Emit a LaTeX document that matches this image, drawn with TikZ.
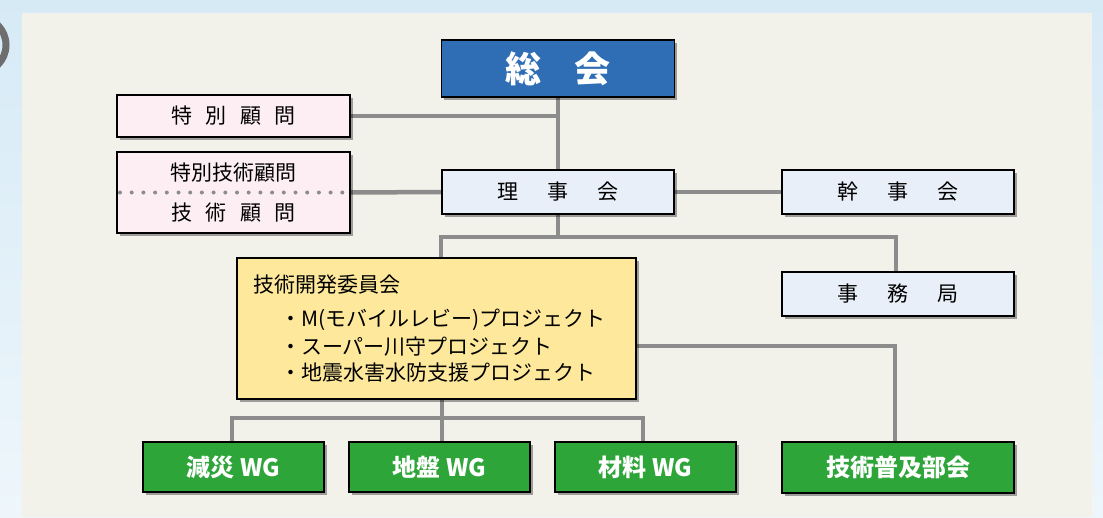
\documentclass[tikz,border=0pt]{standalone}
\usepackage{fontspec}
\setmainfont{Noto Sans CJK JP}
\usetikzlibrary{shadows,backgrounds}
\definecolor{sky}{RGB}{214,234,246}
\definecolor{skylow}{RGB}{238,246,251}
\definecolor{panel}{RGB}{242,241,234}
\definecolor{soblue}{RGB}{47,109,181}
\definecolor{pinkbg}{RGB}{253,238,244}
\definecolor{lbluebg}{RGB}{233,239,249}
\definecolor{yellowbg}{RGB}{253,232,155}
\definecolor{greenbg}{RGB}{45,165,57}
\definecolor{linegray}{RGB}{140,140,140}
\definecolor{ringgray}{RGB}{110,110,110}
\tikzset{
  box/.style={draw=black, line width=1.8pt, inner sep=0pt, outer sep=0pt,
    drop shadow={shadow xshift=2.5pt, shadow yshift=-2.5pt, opacity=0.35, fill=black}},
  pinkbox/.style={box, fill=pinkbg, minimum width=233pt},
  lbbox/.style={box, fill=lbluebg, minimum width=232pt, minimum height=44pt},
  greenbox/.style={box, fill=greenbg, minimum height=50pt, text=white,
    font=\fontsize{24}{28}\selectfont\bfseries},
  txt/.style={inner sep=0pt, outer sep=0pt, font=\fontsize{21}{25}\selectfont},
  conn/.style={draw=linegray, line width=4.5pt},
  dotline/.style={draw=linegray, line width=4pt, line cap=round, dash pattern=on 0pt off 11.7pt}
}
\begin{document}
\begin{tikzpicture}[x=1pt,y=-1pt]
\useasboundingbox (0,0) rectangle (1103,517);
\begin{scope}[on background layer]
  \shade[top color=sky, bottom color=skylow] (0,0) rectangle (1103,517);
  \draw[ringgray, line width=7pt] (-22,45) circle (28);
  \fill[panel] (22,13) rectangle (1092,517);
\end{scope}

% nodes
\node[box, fill=soblue, minimum width=233pt, minimum height=57pt, text=white,
      font=\fontsize{36}{40}\selectfont\bfseries] (sokai) at (558,68.5) {総\hspace{33pt}会};
\node[pinkbox, minimum height=42pt, font=\fontsize{21}{25}\selectfont] (tokubetsu) at (233.5,116)
  {特\hspace{13.5pt}別\hspace{13.5pt}顧\hspace{13.5pt}問};
\node[pinkbox, minimum height=81pt] (gijutsu) at (233.5,192.5) {};
\node[txt] (gt1) at ([yshift=19.5pt]gijutsu.center) {特別技術顧問};
\node[txt] (gt2) at ([yshift=-20.5pt]gijutsu.center) {技\hspace{13.5pt}術\hspace{13.5pt}顧\hspace{13.5pt}問};
\node[lbbox, font=\fontsize{21}{25}\selectfont] (rijikai) at (558,192) {理\hspace{29pt}事\hspace{29pt}会};
\node[lbbox, font=\fontsize{21}{25}\selectfont] (kanjikai) at (898,192) {幹\hspace{29pt}事\hspace{29pt}会};
\node[lbbox, font=\fontsize{21}{25}\selectfont] (jimukyoku) at (898,294) {事\hspace{29pt}務\hspace{29pt}局};
\node[box, fill=yellowbg, minimum width=399pt, minimum height=141pt] (iinkai) at (436.5,328.5) {};
\node[txt, anchor=west] (it0) at (253,285) {技術開発委員会};
\node[txt, anchor=west] (it1) at (280,320) {・M(モバイルレビー)プロジェクト};
\node[txt, anchor=west] (it2) at (280,347) {・スーパー川守プロジェクト};
\node[txt, anchor=west] (it3) at (280,373) {・地震水害水防支援プロジェクト};
\node[greenbox, minimum width=181pt] (gensai) at (233.5,467) {減災 WG};
\node[greenbox, minimum width=181pt] (jiban) at (439.5,467) {地盤 WG};
\node[greenbox, minimum width=181pt] (zairyo) at (645.5,467) {材料 WG};
\node[greenbox, minimum width=232pt, minimum height=51pt] (fukyu) at (898,467.5) {技術普及部会};

% connectors
\coordinate (b1) at (558,237);
\coordinate (b2) at (442,418);
\begin{scope}[on background layer]
  \draw[conn] (sokai.south) -- (rijikai.north);
  \draw[conn] (tokubetsu.east) -- (tokubetsu.east -| sokai.south);
  \draw[conn] (gijutsu.east) -- (rijikai.west);
  \draw[conn] (rijikai.east) -- (kanjikai.west);
  \draw[conn] (rijikai.south) -- (b1);
  \draw[conn] ([xshift=4.5pt]iinkai.north) |- (b1) -| ([xshift=-2pt]jimukyoku.north);
  \draw[conn] ([yshift=-17.5pt]iinkai.east) -| ([xshift=-3pt]fukyu.north);
  \draw[conn] ([xshift=5.5pt]iinkai.south) -- ([xshift=2.5pt]jiban.north);
  \draw[conn] ([xshift=-1.5pt]gensai.north) |- (b2) -| ([xshift=-2.5pt]zairyo.north);
\end{scope}
\draw[dotline] ([xshift=3pt]gijutsu.west) -- ([xshift=-3pt]gijutsu.east);
\end{tikzpicture}
\end{document}
